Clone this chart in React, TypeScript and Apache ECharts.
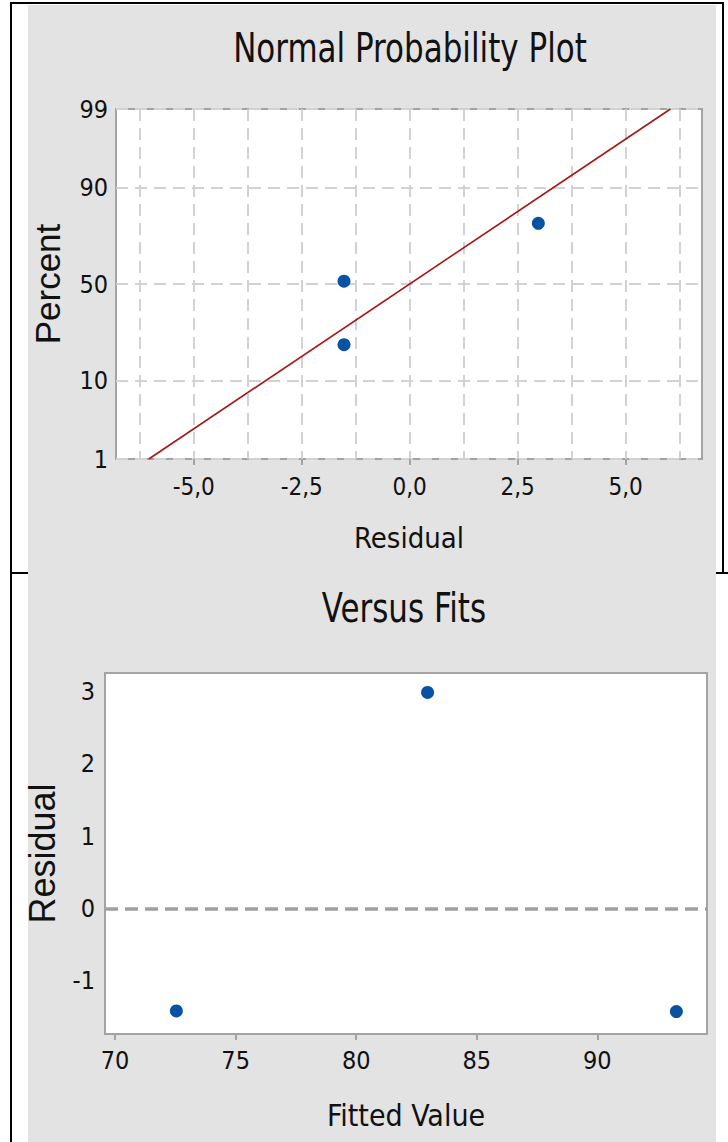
import React, { useEffect, useRef } from "react";
import * as echarts from "echarts";

// ---------- data ----------
const NPP_RESIDUALS = [-1.52, -1.52, 2.98];
const NPP_PERCENTS = [21, 51.5, 79];
const FIT_RESIDUALS = [-6.04, 6.04];
const FIT_PERCENTS = [1, 99];
const PERCENT_TICKS = [1, 10, 50, 90, 99];
const RESID_TICKS = [-5, -2.5, 0, 2.5, 5];
const RESID_GRID = [-6.25, -5, -3.75, -2.5, -1.25, 0, 1.25, 2.5, 3.75, 5, 6.25];

const FITTED_VALUES = [72.54, 82.96, 93.28];
const VF_RESIDUALS = [-1.42, 2.99, -1.43];
const FITTED_TICKS = [70, 75, 80, 85, 90];
const VF_RESID_TICKS = [-1, 0, 1, 2, 3];

// inverse standard normal CDF (Acklam) for the probability scale
function probit(p: number): number {
  const a = [-3.969683028665376e1, 2.209460984245205e2, -2.759285104469687e2, 1.38357751867269e2, -3.066479806614716e1, 2.506628277459239];
  const b = [-5.447609879822406e1, 1.615858368580409e2, -1.556989798598866e2, 6.680131188771972e1, -1.328068155288572e1];
  const c = [-7.784894002430293e-3, -3.223964580411365e-1, -2.400758277161838, -2.549732539343734, 4.374664141464968, 2.938163982698783];
  const d = [7.784695709041462e-3, 3.224671290700398e-1, 2.445134137142996, 3.754408661907416];
  const pl = 0.02425;
  let q: number, r: number;
  if (p < pl) {
    q = Math.sqrt(-2 * Math.log(p));
    return (((((c[0] * q + c[1]) * q + c[2]) * q + c[3]) * q + c[4]) * q + c[5]) / ((((d[0] * q + d[1]) * q + d[2]) * q + d[3]) * q + 1);
  }
  if (p > 1 - pl) {
    q = Math.sqrt(-2 * Math.log(1 - p));
    return -(((((c[0] * q + c[1]) * q + c[2]) * q + c[3]) * q + c[4]) * q + c[5]) / ((((d[0] * q + d[1]) * q + d[2]) * q + d[3]) * q + 1);
  }
  q = p - 0.5;
  r = q * q;
  return (((((a[0] * r + a[1]) * r + a[2]) * r + a[3]) * r + a[4]) * r + a[5]) * q / (((((b[0] * r + b[1]) * r + b[2]) * r + b[3]) * r + b[4]) * r + 1);
}
const z = (pct: number) => probit(pct / 100);

const NARROW = "'DejaVu Sans Condensed', 'Liberation Sans Narrow', 'Liberation Sans', sans-serif";
const WIDE = "'Liberation Sans', Arial, sans-serif";
const TXT = "#111111";
const BLUE = "#0752a3";
const GRIDC = "#d2d2d2";
const BORDER = "#a3a3a3";

export default function App() {
  const ref = useRef<HTMLDivElement>(null);
  useEffect(() => {
    if (!ref.current) return;
    const chart = echarts.init(ref.current, undefined, { renderer: "svg" });
    const zTicks = PERCENT_TICKS.map(z);
    const pctLabel = (v: number) => {
      let best = 0;
      zTicks.forEach((t, i) => {
        if (Math.abs(t - v) < Math.abs(zTicks[best] - v)) best = i;
      });
      return String(PERCENT_TICKS[best]);
    };
    const option: any = {
      animation: false,
      backgroundColor: "#ffffff",
      graphic: [
        { type: "line", z: -100, shape: { x1: 10, y1: 573, x2: 728, y2: 573 }, style: { stroke: "#000", lineWidth: 2 } },
        { type: "rect", z: -90, shape: { x: 28, y: 5, width: 688, height: 1137 }, style: { fill: "#e3e3e3" } },
        { type: "line", z: -80, shape: { x1: 11, y1: 2, x2: 11, y2: 1142 }, style: { stroke: "#000", lineWidth: 2 } },
        { type: "line", z: -80, shape: { x1: 10, y1: 3, x2: 724, y2: 3 }, style: { stroke: "#000", lineWidth: 2 } },
        { type: "line", z: -80, shape: { x1: 723, y1: 2, x2: 723, y2: 574 }, style: { stroke: "#000", lineWidth: 2 } },
        { type: "rect", z: -70, shape: { x: 116, y: 109, width: 586, height: 350 }, style: { fill: "#fff" } },
        { type: "rect", z: -70, shape: { x: 105, y: 673, width: 602, height: 361 }, style: { fill: "#fff" } },
        {
          type: "text", x: 410, y: 48, scaleX: 0.84,
          style: { text: "Normal Probability Plot", textAlign: "center", textVerticalAlign: "middle", font: `41px ${NARROW}`, fill: TXT },
        },
        {
          type: "text", x: 404, y: 608, scaleX: 0.84,
          style: { text: "Versus Fits", textAlign: "center", textVerticalAlign: "middle", font: `41px ${NARROW}`, fill: TXT },
        },
      ],
      grid: [
        { left: 116, top: 109, width: 586, height: 350, show: true, backgroundColor: "transparent", borderColor: BORDER, borderWidth: 2 },
        { left: 105, top: 673, width: 602, height: 361, show: true, backgroundColor: "transparent", borderColor: BORDER, borderWidth: 2 },
      ],
      xAxis: [
        {
          type: "value", gridIndex: 0, min: -6.8, max: 6.77,
          name: "Residual", nameLocation: "middle", nameGap: 64,
          nameTextStyle: { fontFamily: NARROW, fontSize: 29, color: TXT },
          axisLine: { show: false, onZero: false },
          axisTick: { show: true, length: 6, customValues: RESID_TICKS, lineStyle: { color: BORDER, width: 2 } },
          axisLabel: {
            customValues: RESID_TICKS, margin: 16, fontFamily: NARROW, fontSize: 24, color: TXT,
            formatter: (v: number) => v.toFixed(1).replace(".", ","),
          },
          splitLine: { show: false },
        },
        {
          type: "value", gridIndex: 0, min: -6.8, max: 6.77, position: "bottom",
          axisLine: { show: false, onZero: false },
          axisTick: { show: false, customValues: RESID_GRID },
          axisLabel: { show: false },
          splitLine: { show: true, lineStyle: { color: GRIDC, width: 2, type: [12, 7] } },
        },
        {
          type: "value", gridIndex: 1, min: 69.58, max: 94.55,
          name: "Fitted Value", nameLocation: "middle", nameGap: 66,
          nameTextStyle: { fontFamily: NARROW, fontSize: 30, color: TXT },
          axisLine: { show: false, onZero: false },
          axisTick: { show: true, length: 6, customValues: FITTED_TICKS, lineStyle: { color: BORDER, width: 2 } },
          axisLabel: { customValues: FITTED_TICKS, margin: 14, fontFamily: NARROW, fontSize: 25, color: TXT },
          splitLine: { show: false },
        },
      ],
      yAxis: [
        {
          type: "value", gridIndex: 0, min: z(1), max: z(99),
          name: "Percent", nameLocation: "middle", nameGap: 51,
          nameTextStyle: { fontFamily: WIDE, fontSize: 35, color: TXT },
          axisLine: { show: false, onZero: false },
          axisTick: { show: false, customValues: zTicks },
          axisLabel: { customValues: zTicks, margin: 8, fontFamily: NARROW, fontSize: 25, color: TXT, formatter: pctLabel },
          splitLine: { show: true, lineStyle: { color: GRIDC, width: 2, type: [12, 7] } },
        },
        {
          type: "value", gridIndex: 1, min: -1.74, max: 3.26,
          name: "Residual", nameLocation: "middle", nameGap: 45,
          nameTextStyle: { fontFamily: WIDE, fontSize: 36, color: TXT },
          axisLine: { show: false, onZero: false },
          axisTick: { show: false, customValues: VF_RESID_TICKS },
          axisLabel: { customValues: VF_RESID_TICKS, margin: 10, fontFamily: NARROW, fontSize: 25, color: TXT },
          splitLine: { show: false },
        },
      ],
      series: [
        {
          type: "line", xAxisIndex: 0, yAxisIndex: 0, symbol: "none",
          data: FIT_RESIDUALS.map((x, i) => [x, z(FIT_PERCENTS[i])]),
          lineStyle: { color: "#a61616", width: 1.6 },
          z: 3,
        },
        {
          type: "scatter", xAxisIndex: 0, yAxisIndex: 0, symbol: "circle", symbolSize: 13,
          data: NPP_RESIDUALS.map((x, i) => [x, z(NPP_PERCENTS[i])]),
          itemStyle: { color: BLUE, opacity: 1 },
          z: 4,
        },
        {
          type: "scatter", xAxisIndex: 2, yAxisIndex: 1, symbol: "circle", symbolSize: 13,
          data: FITTED_VALUES.map((x, i) => [x, VF_RESIDUALS[i]]),
          itemStyle: { color: BLUE, opacity: 1 },
          markLine: {
            silent: true, symbol: "none", label: { show: false },
            lineStyle: { color: "#a0a0a0", width: 3.5, type: [13, 7] },
            data: [{ yAxis: 0 }],
          },
          z: 4,
        },
      ],
    };
    chart.setOption(option);
    return () => chart.dispose();
  }, []);
  return <div ref={ref} style={{ position: "fixed", left: 0, top: 0, width: 728, height: 1142 }} />;
}
